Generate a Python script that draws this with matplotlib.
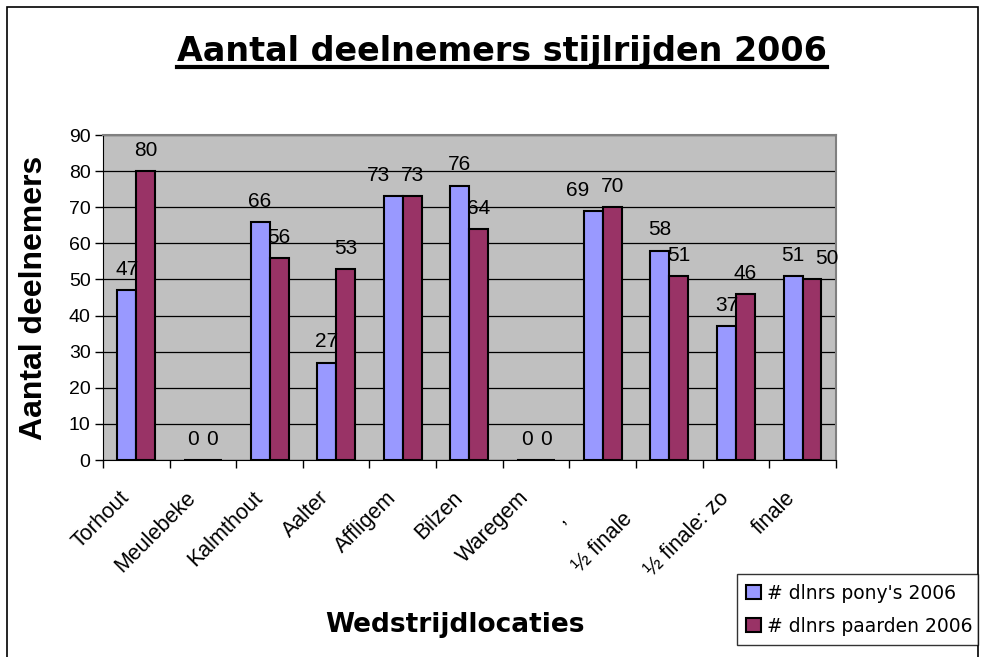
import numpy as np
from matplotlib import pyplot as plt
from matplotlib import transforms
from matplotlib.lines import Line2D
from matplotlib.patches import Rectangle

plt.rcParams['font.family'] = 'Liberation Sans'

locaties = ['Torhout', 'Meulebeke', 'Kalmthout', 'Aalter', 'Affligem', 'Bilzen',
            'Waregem', ',', '½ finale', '½ finale: zo', 'finale']
ponys = [47, 0, 66, 27, 73, 76, 0, 69, 58, 37, 51]
paarden = [80, 0, 56, 53, 73, 64, 0, 70, 51, 46, 50]
series_names = ["# dlnrs pony's 2006", "# dlnrs paarden 2006"]

c_pony = '#9999FF'
c_paard = '#993366'

fig = plt.figure(figsize=(9.81, 6.57), dpi=100)
ax = fig.add_axes([0.105, 0.2998, 0.747, 0.4947])

x = np.arange(len(locaties))
w = 0.285
b1 = ax.bar(x - w/2, ponys, w, color=c_pony, edgecolor='black', linewidth=1.5, zorder=3, label=series_names[0])
b2 = ax.bar(x + w/2, paarden, w, color=c_paard, edgecolor='black', linewidth=1.5, zorder=3, label=series_names[1])

# value labels, nudge the lower one sideways when the two labels collide (like excel does)
for i in range(len(locaties)):
    p, q = ponys[i], paarden[i]
    dx_p, dx_q = 0, 0
    if abs(p - q) < 4 and p > 9 and q > 9:
        if p <= q:
            dx_p = -11
        else:
            dx_q = 11
    for r, v, dx in ((b1[i], p, dx_p), (b2[i], q, dx_q)):
        ax.annotate('%d' % v, (r.get_x() + r.get_width()/2, v),
                    xytext=(dx, 8), textcoords='offset points', ha='center', va='bottom',
                    fontsize=15, zorder=4)

ax.set_facecolor('#C0C0C0')
ax.set_ylim(0, 90)
ax.set_xlim(-0.5, len(locaties) - 0.5)
ax.set_yticks(np.arange(0, 91, 10))
ax.yaxis.grid(True, color='black', linewidth=0.9, zorder=1)
ax.set_axisbelow(True)

ax.set_xticks(np.arange(-0.5, len(locaties)), minor=False)
ax.set_xticklabels([])
ax.set_xticks(x, minor=True)
ax.set_xticklabels(locaties, minor=True, rotation=45, ha='right', va='center', rotation_mode='anchor',
                   fontsize=15.5)
ax.tick_params(axis='x', which='minor', length=0, pad=25)
ax.tick_params(axis='x', which='major', length=6, width=1)
ax.tick_params(axis='y', length=6, width=1, labelsize=14, pad=3)

# the excel labels sit a bit left of the group centre; two of them are cut off further down
shift = transforms.ScaledTranslation(-10/100, 0, fig.dpi_scale_trans)
for i, t in enumerate(ax.get_xticklabels(minor=True)):
    if locaties[i] in (',', '½ finale'):
        t.set_transform(t.get_transform() + transforms.ScaledTranslation(-0.40, -0.21, fig.dpi_scale_trans))
    else:
        t.set_transform(t.get_transform() + shift)

for s in ['top', 'right']:
    ax.spines[s].set_color('#808080')
    ax.spines[s].set_linewidth(1.5)
for s in ['left', 'bottom']:
    ax.spines[s].set_color('black')

ax.set_ylabel('Aantal deelnemers', fontsize=23, fontweight='bold')
ax.yaxis.set_label_coords(-0.074, 0.5)
fig.text(0.464, 0.049, 'Wedstrijdlocaties', ha='center', va='center', fontsize=19, fontweight='bold',
         family='DejaVu Sans')

title = fig.text(0.512, 0.921, 'Aantal deelnemers stijlrijden 2006', ha='center', va='center',
                 fontsize=24, fontweight='bold', family='DejaVu Sans')
fig.canvas.draw()
bb = title.get_window_extent(fig.canvas.get_renderer()).transformed(fig.transFigure.inverted())
fig.add_artist(Line2D([bb.x0, bb.x1], [bb.y0 + 0.002, bb.y0 + 0.002], color='black', linewidth=3,
                      transform=fig.transFigure))

leg = fig.legend(loc='lower left', bbox_to_anchor=(0.751, 0.018, 0.246, 0.108), mode='expand',
                 prop={'family': 'DejaVu Sans', 'size': 13.5}, frameon=True, fancybox=False,
                 handlelength=0.8, handleheight=0.8, handletextpad=0.3, borderaxespad=0,
                 labelspacing=0.75, borderpad=0.5)
leg.get_frame().set_edgecolor('black')
leg.get_frame().set_linewidth(1)

fig.add_artist(Rectangle((0.007, -0.01), 0.99, 0.999, fill=False, edgecolor='black', linewidth=1.2,
                         transform=fig.transFigure))

fig.savefig('out.png', dpi=100)
